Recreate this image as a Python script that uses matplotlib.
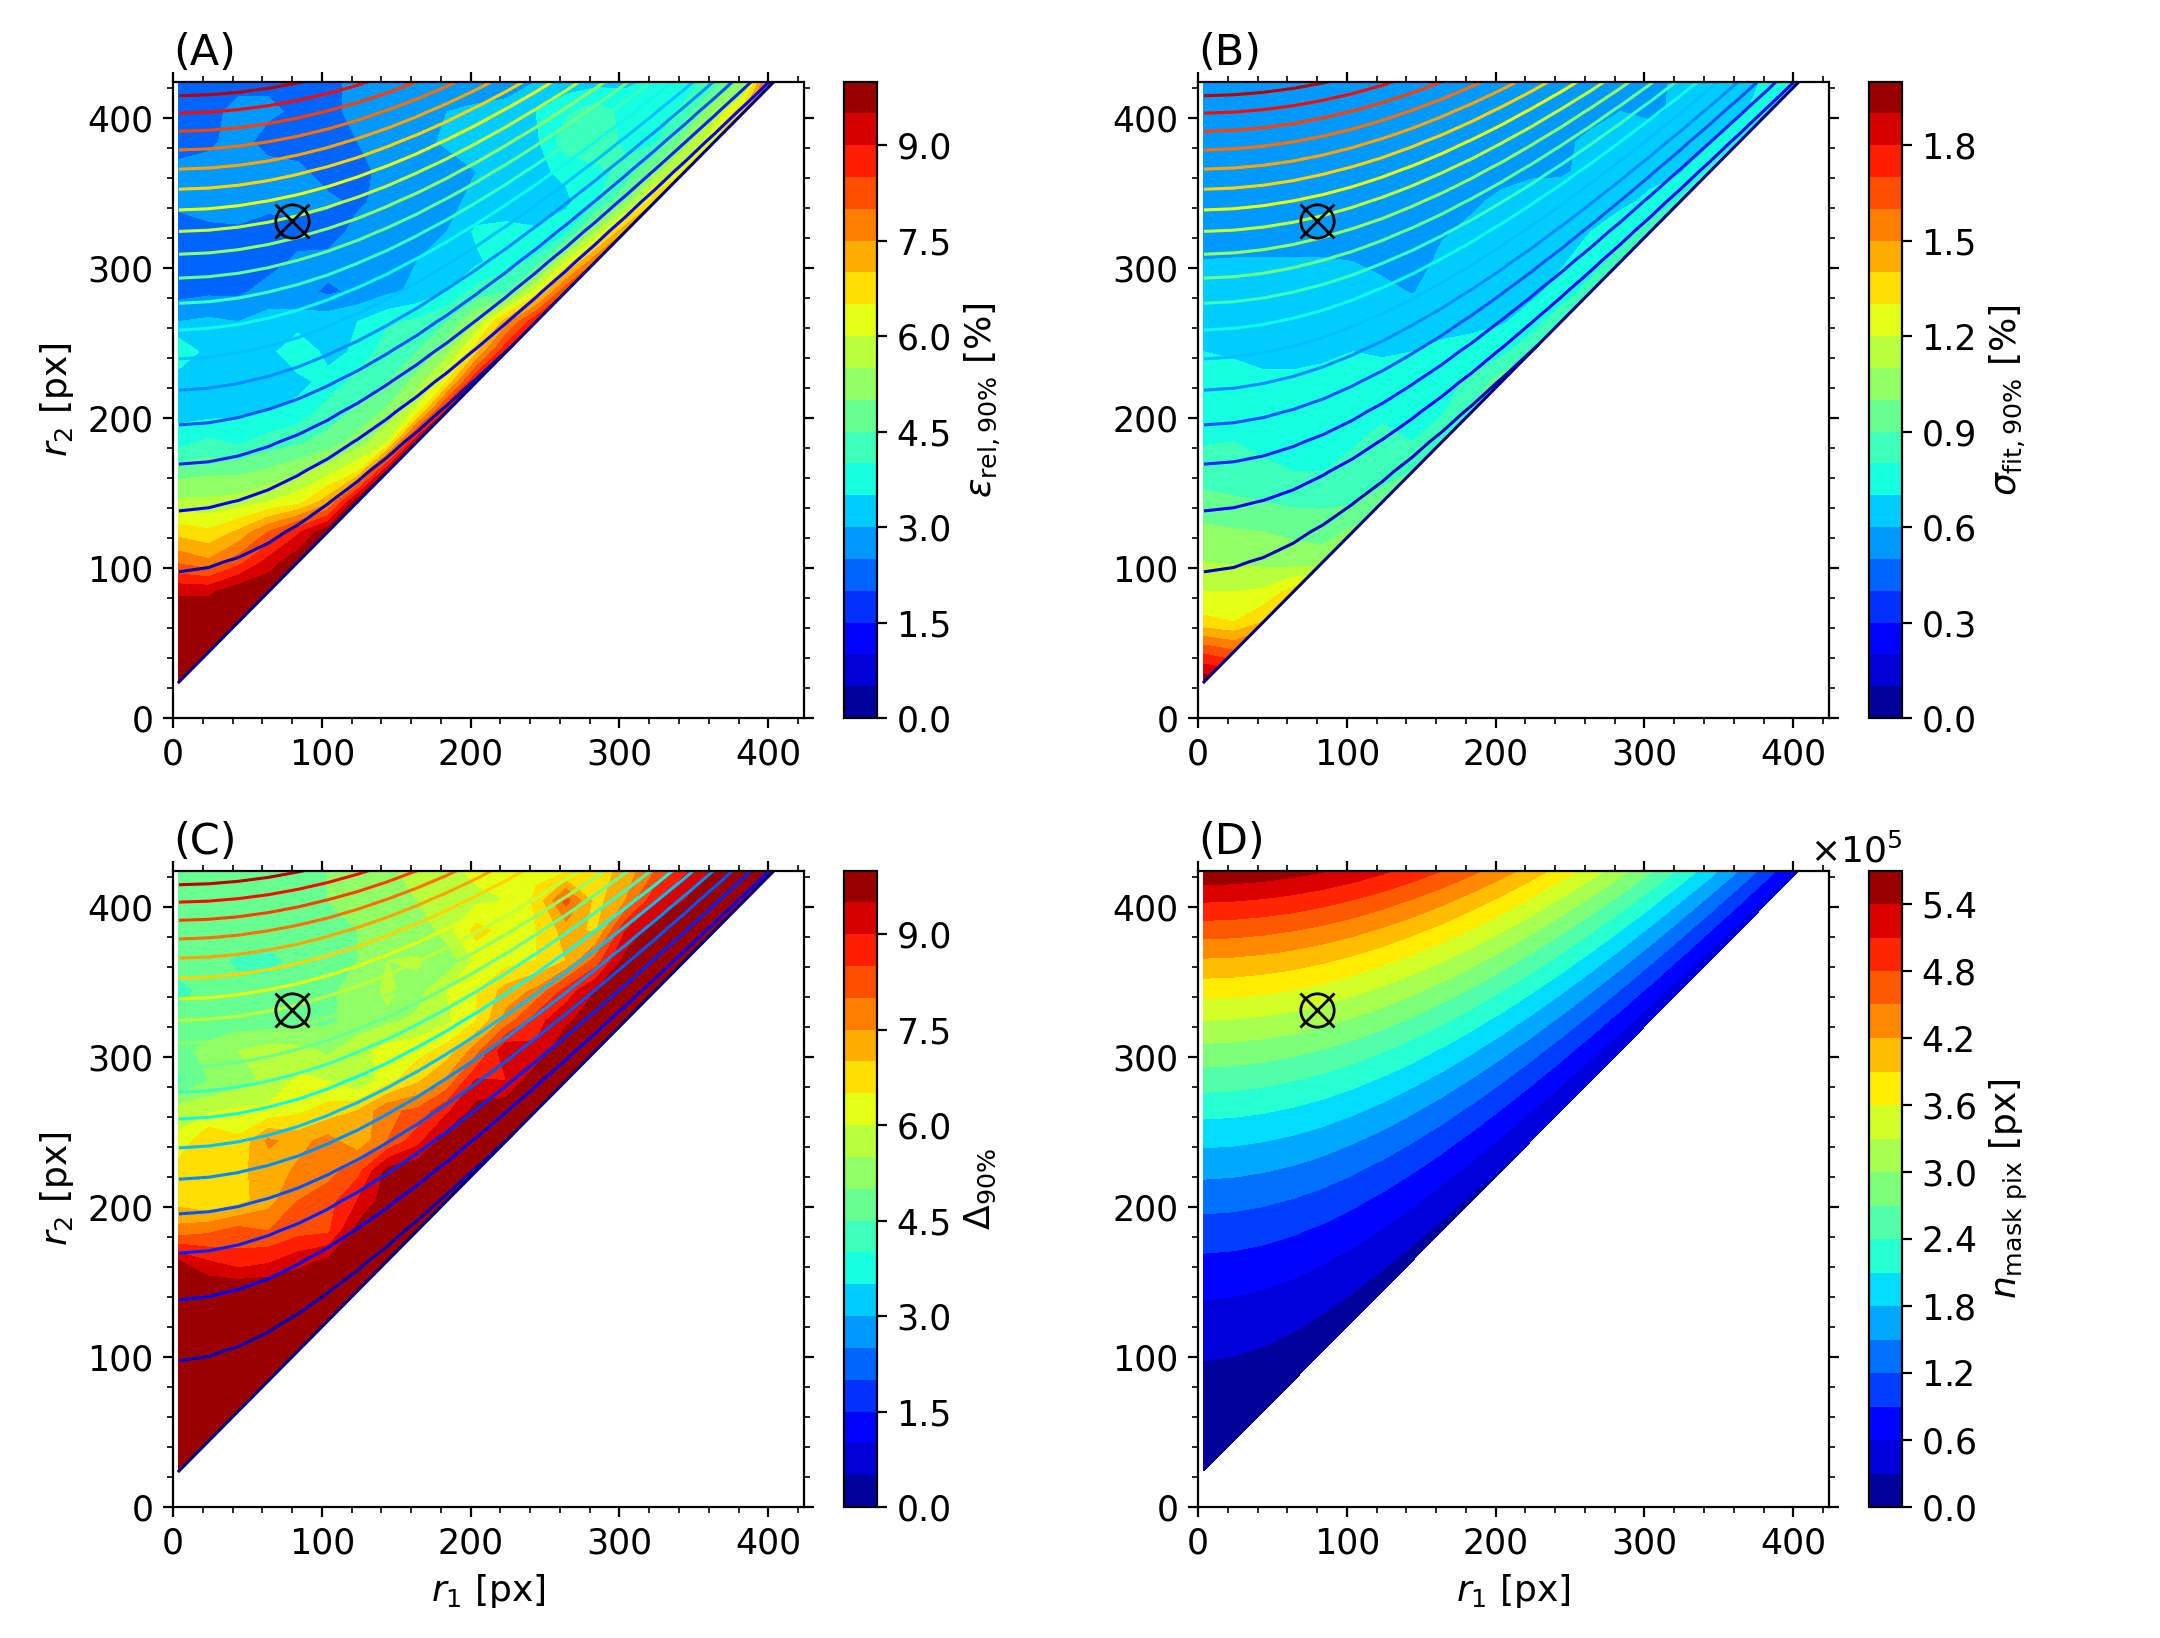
import numpy as np
import matplotlib
matplotlib.use('Agg')
import matplotlib.pyplot as plt
from matplotlib.ticker import MultipleLocator, ScalarFormatter

r1_vals = [4, 24, 44, 64, 84, 104, 124, 144, 164, 184, 204, 224, 244, 264, 284, 304, 324, 344, 364, 384, 404]
r2_vals = [24, 44, 64, 84, 104, 124, 144, 164, 184, 204, 224, 244, 264, 284, 304, 324, 344, 364, 384, 404, 424]

# one row per r2 (bottom to top), each row starts at the smallest r1
eps_rows = [
    [9.99],
    [9.99, 9.99],
    [9.99, 9.99, 9.99],
    [9.4, 9.4, 9.9, 9.99],
    [7.9, 7.6, 8.3, 9.2, 9.9],
    [6.8, 6.6, 7.1, 8.0, 8.9, 9.9],
    [5.6, 5.6, 5.7, 6.0, 6.3, 7.3, 9.9],
    [4.8, 4.9, 4.9, 5.1, 5.4, 5.8, 6.5, 9.6],
    [3.8, 4.1, 3.9, 4.2, 4.4, 4.7, 5.2, 6.0, 9.5],
    [3.3, 3.3, 3.4, 3.5, 3.7, 4.2, 4.6, 5.1, 6.2, 9.2],
    [3.2, 3.1, 3.2, 3.3, 3.3, 3.7, 4.2, 4.5, 5.2, 6.5, 9.2],
    [3.9, 3.3, 3.2, 3.3, 4.0, 3.3, 3.6, 4.3, 4.5, 5.3, 6.9, 9.0],
    [3.0, 3.1, 3.0, 3.2, 3.2, 3.3, 3.5, 3.9, 4.1, 4.5, 5.5, 7.3, 9.0],
    [2.3, 2.4, 2.4, 2.7, 2.7, 2.4, 2.6, 2.9, 3.1, 3.5, 4.2, 4.4, 6.2, 8.5],
    [2.3, 2.3, 2.2, 2.3, 2.6, 2.7, 2.7, 2.8, 3.0, 3.3, 3.4, 3.8, 4.1, 6.0, 8.0],
    [2.3, 2.4, 2.4, 2.2, 2.3, 2.2, 2.7, 2.8, 2.9, 3.0, 3.6, 3.6, 3.6, 3.8, 5.5, 7.5],
    [2.6, 2.7, 2.8, 2.7, 2.7, 2.6, 2.4, 2.7, 2.8, 2.9, 3.1, 3.3, 3.0, 3.4, 3.9, 5.0, 7.0],
    [2.7, 2.7, 2.8, 2.7, 2.6, 2.3, 2.3, 2.7, 2.7, 2.7, 3.0, 3.1, 3.4, 3.6, 3.9, 4.1, 5.2, 6.5],
    [2.2, 2.4, 2.7, 2.3, 2.3, 2.3, 2.5, 2.8, 2.8, 3.1, 3.3, 3.3, 3.4, 4.3, 4.3, 3.9, 3.9, 5.2, 6.5],
    [2.2, 2.3, 2.7, 2.6, 2.4, 2.4, 2.6, 2.7, 2.8, 3.0, 3.1, 3.3, 3.5, 3.9, 4.3, 3.8, 3.8, 4.1, 5.5, 7.0],
    [2.2, 2.2, 2.3, 2.4, 2.2, 2.4, 2.6, 2.7, 2.8, 2.7, 2.7, 2.6, 3.0, 3.2, 3.3, 3.4, 3.6, 3.8, 4.2, 5.2, 9.0],
]

sig_rows = [
    [1.98],
    [1.68, 1.62],
    [1.33, 1.30, 1.40],
    [1.20, 1.20, 1.22, 1.35],
    [1.10, 1.09, 1.07, 1.05, 1.05],
    [1.03, 1.01, 1.00, 0.98, 0.96, 1.02],
    [0.92, 0.91, 0.90, 0.88, 0.88, 0.89, 0.95],
    [0.87, 0.86, 0.81, 0.80, 0.80, 0.83, 0.85, 0.90],
    [0.79, 0.80, 0.79, 0.78, 0.78, 0.79, 0.83, 0.80, 0.86],
    [0.75, 0.75, 0.75, 0.75, 0.76, 0.76, 0.78, 0.76, 0.79, 0.90],
    [0.73, 0.73, 0.72, 0.72, 0.73, 0.74, 0.74, 0.74, 0.74, 0.83, 0.95],
    [0.70, 0.69, 0.67, 0.67, 0.68, 0.70, 0.69, 0.70, 0.72, 0.73, 0.77, 0.88],
    [0.66, 0.65, 0.65, 0.65, 0.65, 0.65, 0.65, 0.66, 0.67, 0.68, 0.69, 0.74, 0.88],
    [0.63, 0.63, 0.63, 0.63, 0.63, 0.63, 0.62, 0.595, 0.64, 0.65, 0.67, 0.68, 0.73, 0.85],
    [0.605, 0.61, 0.61, 0.61, 0.61, 0.60, 0.58, 0.56, 0.62, 0.64, 0.66, 0.67, 0.69, 0.74, 0.85],
    [0.53, 0.53, 0.53, 0.54, 0.54, 0.55, 0.56, 0.57, 0.59, 0.62, 0.64, 0.65, 0.67, 0.70, 0.75, 0.85],
    [0.53, 0.53, 0.53, 0.53, 0.53, 0.53, 0.55, 0.56, 0.57, 0.585, 0.62, 0.63, 0.64, 0.66, 0.68, 0.72, 0.82],
    [0.54, 0.54, 0.54, 0.54, 0.54, 0.54, 0.54, 0.55, 0.55, 0.56, 0.57, 0.59, 0.59, 0.62, 0.65, 0.67, 0.69, 0.82],
    [0.54, 0.54, 0.54, 0.54, 0.54, 0.54, 0.54, 0.55, 0.55, 0.55, 0.55, 0.56, 0.58, 0.62, 0.64, 0.65, 0.66, 0.68, 0.80],
    [0.55, 0.55, 0.55, 0.55, 0.55, 0.55, 0.55, 0.55, 0.55, 0.55, 0.55, 0.55, 0.56, 0.57, 0.60, 0.58, 0.62, 0.65, 0.67, 0.78],
    [0.55, 0.55, 0.55, 0.55, 0.55, 0.55, 0.55, 0.55, 0.55, 0.55, 0.55, 0.55, 0.55, 0.55, 0.56, 0.57, 0.62, 0.64, 0.66, 0.72, 0.85],
]

delta_rows = [
    [9.99],
    [9.99, 9.99],
    [9.99, 9.99, 9.99],
    [9.99, 9.99, 9.99, 9.99],
    [9.99, 9.99, 9.99, 9.99, 9.99],
    [9.99, 9.99, 9.99, 9.99, 9.99, 9.99],
    [9.99, 9.99, 9.99, 9.99, 9.99, 9.99, 9.99],
    [9.5, 9.0, 8.7, 8.9, 9.3, 9.6, 9.99, 9.99],
    [7.7, 7.9, 8.2, 8.0, 8.3, 8.4, 9.7, 9.9, 9.99],
    [6.8, 6.5, 6.8, 7.3, 8.0, 8.3, 9.0, 9.8, 9.9, 9.99],
    [6.8, 6.8, 6.9, 7.2, 7.6, 7.8, 8.3, 9.7, 9.9, 9.9, 9.99],
    [6.1, 7.0, 6.6, 7.6, 7.3, 7.7, 7.1, 8.0, 8.8, 9.8, 9.9, 9.99],
    [5.8, 5.9, 6.1, 6.1, 6.4, 6.7, 7.0, 7.9, 8.1, 8.9, 9.7, 9.9, 9.99],
    [4.4, 5.0, 5.3, 5.6, 6.1, 6.0, 5.5, 6.3, 6.9, 7.6, 9.1, 9.0, 9.9, 9.99],
    [4.8, 5.2, 5.5, 5.7, 5.7, 5.4, 5.8, 6.2, 6.3, 6.7, 7.8, 9.5, 9.1, 9.9, 9.99],
    [4.7, 4.6, 4.7, 4.7, 4.8, 4.9, 5.2, 5.4, 5.6, 5.9, 6.5, 7.7, 8.8, 9.4, 9.8, 9.99],
    [4.3, 4.7, 4.7, 4.7, 4.8, 4.9, 5.2, 5.6, 5.3, 6.0, 6.5, 7.2, 7.6, 8.7, 9.5, 9.9, 9.99],
    [4.8, 4.7, 4.4, 4.3, 4.7, 4.9, 5.0, 5.5, 5.6, 5.1, 6.1, 6.3, 6.5, 7.0, 8.2, 9.7, 9.99, 9.99],
    [4.8, 4.7, 4.8, 4.8, 4.8, 4.9, 5.0, 5.4, 5.0, 5.8, 6.7, 6.3, 6.5, 7.2, 6.9, 9.0, 9.8, 9.99, 9.99],
    [4.7, 4.7, 4.8, 4.8, 4.9, 5.0, 5.2, 5.2, 5.5, 5.7, 5.9, 6.0, 6.6, 8.2, 6.8, 7.5, 8.9, 9.5, 9.9, 9.99],
    [4.7, 4.7, 4.7, 4.8, 4.9, 5.0, 5.2, 5.4, 5.7, 5.9, 6.1, 6.2, 6.4, 6.4, 6.7, 7.2, 8.0, 8.9, 9.6, 9.99, 9.99],
]

# mask pixel counts in units of 1e5
npix_rows = [
    [0.018],
    [0.060, 0.043],
    [0.128, 0.111, 0.068],
    [0.221, 0.204, 0.161, 0.093],
    [0.339, 0.322, 0.279, 0.211, 0.118],
    [0.483, 0.465, 0.422, 0.354, 0.261, 0.143],
    [0.651, 0.633, 0.591, 0.523, 0.430, 0.312, 0.168],
    [0.844, 0.827, 0.784, 0.716, 0.623, 0.505, 0.362, 0.194],
    [1.063, 1.046, 1.003, 0.935, 0.842, 0.724, 0.581, 0.412, 0.219],
    [1.307, 1.289, 1.247, 1.179, 1.086, 0.968, 0.824, 0.656, 0.462, 0.244],
    [1.576, 1.558, 1.516, 1.448, 1.355, 1.237, 1.093, 0.925, 0.731, 0.513, 0.269],
    [1.870, 1.852, 1.810, 1.742, 1.649, 1.531, 1.387, 1.219, 1.025, 0.807, 0.563, 0.294],
    [2.189, 2.171, 2.129, 2.061, 1.968, 1.850, 1.707, 1.538, 1.345, 1.126, 0.882, 0.613, 0.319],
    [2.533, 2.516, 2.473, 2.405, 2.312, 2.194, 2.051, 1.883, 1.689, 1.470, 1.227, 0.958, 0.664, 0.344],
    [2.903, 2.885, 2.843, 2.775, 2.682, 2.564, 2.420, 2.252, 2.058, 1.840, 1.596, 1.327, 1.033, 0.714, 0.369],
    [3.297, 3.280, 3.237, 3.169, 3.076, 2.958, 2.815, 2.647, 2.453, 2.234, 1.990, 1.722, 1.428, 1.108, 0.764, 0.395],
    [3.717, 3.700, 3.657, 3.589, 3.496, 3.378, 3.235, 3.066, 2.873, 2.654, 2.410, 2.141, 1.847, 1.528, 1.184, 0.814, 0.420],
    [4.162, 4.144, 4.102, 4.034, 3.941, 3.823, 3.680, 3.511, 3.318, 3.099, 2.855, 2.586, 2.292, 1.973, 1.629, 1.259, 0.865, 0.445],
    [4.632, 4.614, 4.572, 4.504, 4.411, 4.293, 4.150, 3.981, 3.788, 3.569, 3.325, 3.056, 2.762, 2.443, 2.099, 1.729, 1.335, 0.915, 0.470],
    [5.127, 5.110, 5.067, 4.999, 4.906, 4.788, 4.645, 4.476, 4.283, 4.064, 3.820, 3.551, 3.257, 2.938, 2.594, 2.224, 1.830, 1.410, 0.965, 0.495],
    [5.647, 5.630, 5.587, 5.519, 5.426, 5.308, 5.165, 4.996, 4.803, 4.584, 4.340, 4.071, 3.777, 3.459, 3.114, 2.745, 2.350, 1.930, 1.485, 1.015, 0.520],
]

eps_levels = [0.0, 0.5, 1.0, 1.5, 2.0, 2.5, 3.0, 3.5, 4.0, 4.5, 5.0, 5.5, 6.0, 6.5, 7.0, 7.5, 8.0, 8.5, 9.0, 9.5, 10.0]
sig_levels = [0.0, 0.1, 0.2, 0.3, 0.4, 0.5, 0.6, 0.7, 0.8, 0.9, 1.0, 1.1, 1.2, 1.3, 1.4, 1.5, 1.6, 1.7, 1.8, 1.9, 2.0]
npix_levels = [0.0, 0.3, 0.6, 0.9, 1.2, 1.5, 1.8, 2.1, 2.4, 2.7, 3.0, 3.3, 3.6, 3.9, 4.2, 4.5, 4.8, 5.1, 5.4, 5.7]
eps_ticks = [0.0, 1.5, 3.0, 4.5, 6.0, 7.5, 9.0]
sig_ticks = [0.0, 0.3, 0.6, 0.9, 1.2, 1.5, 1.8]
npix_ticks = [0.0, 0.6, 1.2, 1.8, 2.4, 3.0, 3.6, 4.2, 4.8, 5.4]

best_r1 = 80
best_r2 = 331


def to_grid(rows):
    grid = np.full((len(r2_vals), len(r1_vals)), np.nan)
    for j, row in enumerate(rows):
        grid[j, :len(row)] = row
    return np.ma.masked_invalid(grid)


def to_frac(box):
    # box is left, top, right, bottom in pixels of the final image
    l, t, r, b = box
    return [l / W, 1 - b / H, (r - l) / W, (b - t) / H]


def panel(pos, cpos, rows, levels, ticks, tag, clabel, xlab, ylab, lines):
    ax = fig.add_axes(to_frac(pos))
    z = to_grid(rows)
    cf = ax.contourf(r1_vals, r2_vals, z, levels=levels, cmap='jet')
    if lines:
        ax.contour(r1_vals, r2_vals, n_grid, levels=n_levels, cmap='jet', linewidths=1.1)
        ax.plot(r1_vals, r2_vals, color=plt.get_cmap('jet')(0.0), lw=1.1)
    ax.plot(best_r1, best_r2, 'o', mfc='none', mec='k', ms=12, mew=1.0)
    ax.plot(best_r1, best_r2, 'x', color='k', ms=12, mew=1.0)
    ax.set_xlim(0, 424)
    ax.set_ylim(0, 424)
    ax.xaxis.set_major_locator(MultipleLocator(100))
    ax.yaxis.set_major_locator(MultipleLocator(100))
    ax.xaxis.set_minor_locator(MultipleLocator(20))
    ax.yaxis.set_minor_locator(MultipleLocator(20))
    ax.tick_params(which='both', top=True, right=True)
    ax.set_title(tag, loc='left', fontsize=15.5)
    if xlab:
        ax.set_xlabel(r'$r_1$ [px]', fontsize=13)
    if ylab:
        ax.set_ylabel(r'$r_2$ [px]', fontsize=13)

    cax = fig.add_axes(to_frac(cpos))
    cb = fig.colorbar(cf, cax=cax, ticks=ticks)
    cb.set_label(clabel, fontsize=13)
    return cb


W, H = 2160, 1638
plt.rcParams['font.size'] = 12.5

n_levels = [v * 1e5 for v in npix_levels]
n_grid = to_grid(npix_rows) * 1e5

fig = plt.figure(figsize=(W / 200, H / 200), dpi=200)

panel((173, 81.5, 804, 718), (844, 81.5, 877, 718), eps_rows, eps_levels, eps_ticks, '(A)',
      r'$\varepsilon_{\mathrm{rel,90\%}}$ [%]', False, True, True)
panel((1198, 81.5, 1829, 718), (1869, 81.5, 1902, 718), sig_rows, sig_levels, sig_ticks, '(B)',
      r'$\sigma_{\mathrm{fit,90\%}}$ [%]', False, False, True)
panel((173, 870.5, 804, 1507), (844, 870.5, 877, 1507), delta_rows, eps_levels, eps_ticks, '(C)',
      r'$\Delta_{90\%}$', True, True, True)

ax_d_pix = [v * 1e5 for v in npix_ticks]
fmt = ScalarFormatter(useMathText=True)
fmt.set_powerlimits((0, 0))
cb = panel((1198, 870.5, 1829, 1507), (1869, 870.5, 1902, 1507), [[v * 1e5 for v in row] for row in npix_rows],
           n_levels, ax_d_pix, '(D)', r'$n_{\mathrm{mask\ pix}}$ [px]', True, False, False)
cb.ax.yaxis.set_major_formatter(fmt)
cb.ax.yaxis.get_offset_text().set_fontsize(13)

fig.savefig('out.png', dpi=200)
